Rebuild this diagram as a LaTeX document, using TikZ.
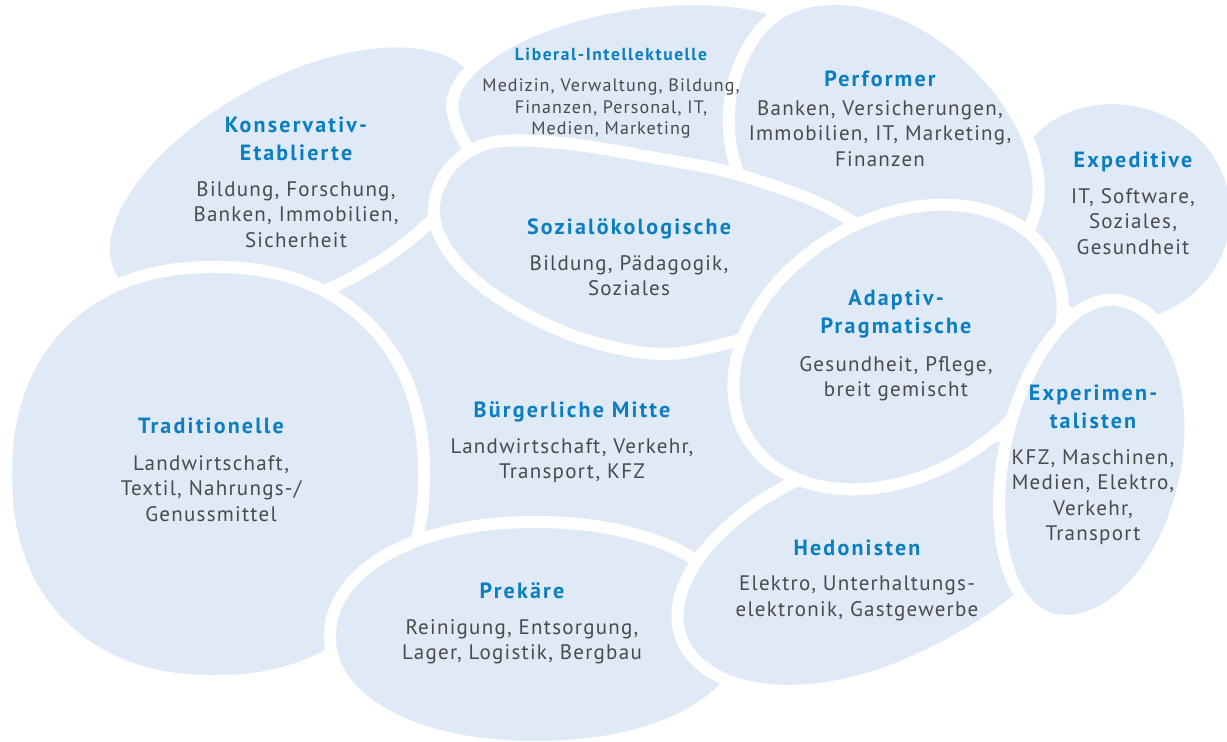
\documentclass[tikz,border=0pt]{standalone}
\usepackage{fontspec}
\setmainfont{PT Sans}
\newfontfamily\headfont[LetterSpace=10]{PT Sans}
\newfontfamily\liberalfont[LetterSpace=9]{PT Sans}
\newfontfamily\bodyfont[LetterSpace=6]{PT Sans}
\definecolor{Blob}{HTML}{DFEAF6}
\definecolor{Head}{HTML}{0A7EC2}
\definecolor{Ink}{HTML}{4A4A4A}
\tikzset{
  blob/.style={fill=Blob,draw=white,line width=12pt},
  head/.style={font=\headfont\bfseries\fontsize{22}{28}\selectfont,text=Head,align=center,
    inner sep=0pt,anchor=south,text depth=0pt},
  body/.style={font=\bodyfont\fontsize{21}{25.5}\selectfont,text=Ink,align=center,
    inner sep=0pt,anchor=north},
}
\begin{document}
\begin{tikzpicture}[x=1pt,y=-1pt]
  % centre x/y, right, left, top, bottom radius, rotation, roundness
  \def\milieu#1#2#3#4#5#6#7#8{%
    \draw[blob,shift={(#1,#2)},rotate=#7] plot[domain=1:361,samples=181]
      ({(cos(\x)>=0?#3:#4)*(cos(\x)>=0?1:-1)*pow(abs(cos(\x)),#8)},
       {(sin(\x)>=0?#6:#5)*(sin(\x)>=0?1:-1)*pow(abs(sin(\x)),#8)}) -- cycle;}
  \useasboundingbox (0,0) rectangle (1227,742);
  % Buergerliche Mitte underneath
  \fill[Blob] plot[smooth cycle] coordinates {(300,290) (440,170) (600,300) (800,350)
    (850,480) (715,585) (420,580) (380,420)};
  \milieu{300}{175}{205}{215}{105}{115}{28}{1}
  \milieu{630}{80}{190}{180}{75}{125}{10}{1}
  \milieu{1125}{212}{112}{125}{110}{115}{-30}{1}
  \milieu{885}{130}{175}{160}{110}{150}{-38}{1}
  % Sozialoekologische
  \draw[blob] plot[smooth cycle,tension=0.6] coordinates {(434,215) (448,170) (490,143)
    (560,143) (650,157) (743,176) (840,214) (880,262) (800,322) (740,340) (663,354)
    (580,338) (505,302) (455,260)};
  \milieu{214}{475}{210}{208}{208}{206}{0}{0.9}
  \milieu{535}{637}{210}{205}{115}{110}{0}{0.95}
  \milieu{858}{568}{240}{190}{105}{108}{22}{1}
  \milieu{898}{347}{176}{176}{128}{128}{31}{1}
  \milieu{1087}{460}{100}{83}{163}{163}{-12}{1}
  \foreach \n/\x/\yt/\yb/\ttl/\bdy in {
    konserv/296/161/181/{Konservativ-\\Etablierte}/{Bildung, Forschung,\\Banken, Immobilien,\\Sicherheit},
    performer/880/87/100/{Performer}/{Banken, Versicherungen,\\Immobilien, IT, Marketing,\\Finanzen},
    expeditive/1133/168/188/{Expeditive}/{IT, Software,\\Soziales,\\Gesundheit},
    sozial/629/235/255/{Sozialökologische}/{Bildung, Pädagogik,\\Soziales},
    adaptiv/896/334/356/{Adaptiv-\\Pragmatische}/{Gesundheit, Pflege,\\breit gemischt},
    experim/1093/429/449/{Experimen-\\talisten}/{KFZ, Maschinen,\\Medien, Elektro,\\Verkehr,\\Transport},
    tradit/211/434/455/{Traditionelle}/{Landwirtschaft,\\Textil, Nahrungs-/\\Genussmittel},
    buerger/572/418/438/{Bürgerliche Mitte}/{Landwirtschaft, Verkehr,\\Transport, KFZ},
    hedon/857/556/576/{Hedonisten}/{Elektro, Unterhaltungs-\\elektronik, Gastgewerbe},
    prek/522/599/619/{Prekäre}/{Reinigung, Entsorgung,\\Lager, Logistik, Bergbau}} {
    \node[head] (\n-head) at (\x,\yt) {\ttl};
    \node[body] (\n-body) at (\x,\yb) {\bdy};
  }
  \node[head,font=\liberalfont\bfseries\fontsize{17.5}{20}\selectfont] (liberal-head)
    at (611,61) {Liberal-Intellektuelle};
  \node[body,font=\bodyfont\fontsize{18}{21.5}\selectfont] (liberal-body) at (611,79)
    {Medizin, Verwaltung, Bildung,\\Finanzen, Personal, IT,\\Medien, Marketing};
\end{tikzpicture}
\end{document}
